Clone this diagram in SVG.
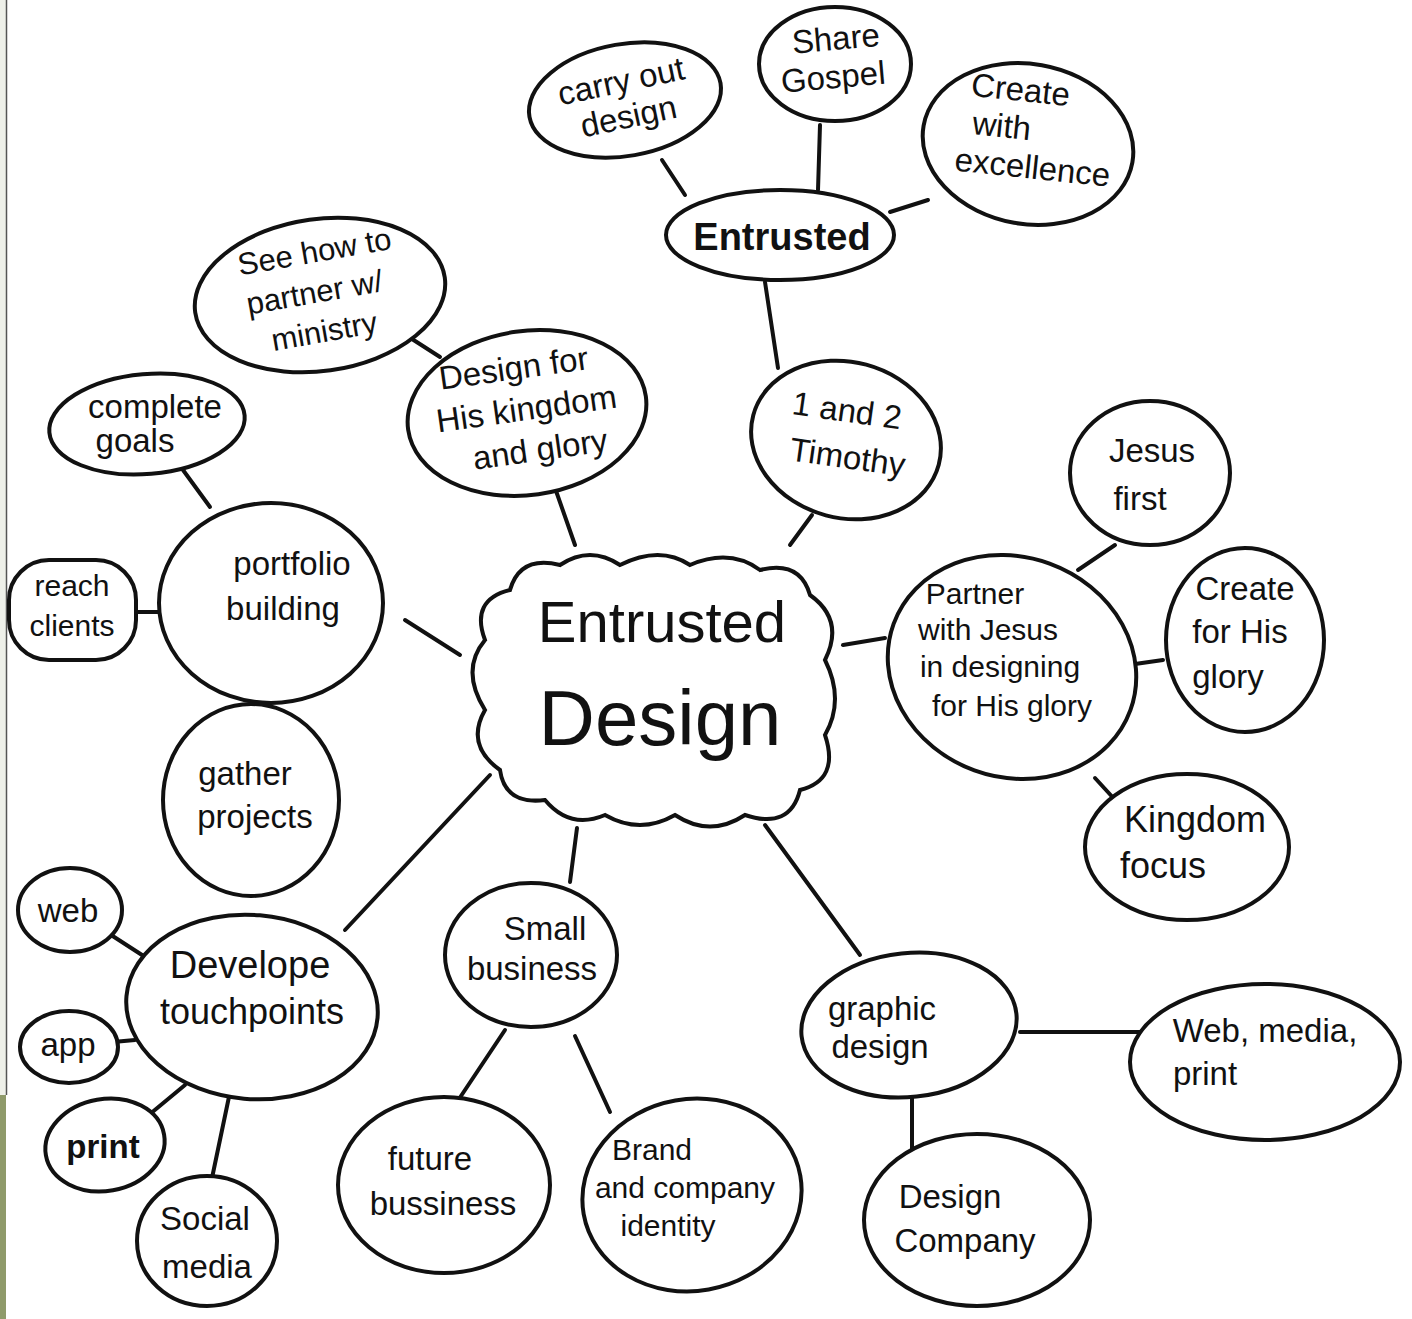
<svg xmlns="http://www.w3.org/2000/svg" width="1412" height="1319" viewBox="0 0 1412 1319">
<style>
.n{fill:#fff;stroke:#111;stroke-width:4}
.c line{stroke:#111;stroke-width:4;stroke-linecap:round}
text{font-family:"Liberation Sans","DejaVu Sans",sans-serif;fill:#111;text-anchor:middle}
.t{font-size:33px}
.s{font-size:30px}
</style>
<rect x="0" y="0" width="1412" height="1319" fill="#fff"/>
<rect x="0" y="0" width="6" height="1095" fill="#eef0e9"/>
<line x1="6.5" y1="0" x2="6.5" y2="1095" stroke="#555" stroke-width="1.5"/>
<rect x="0" y="1095" width="6" height="224" fill="#8f9a6a"/>

<g id="connectors" class="c">
<line x1="685" y1="195" x2="662" y2="160"/>
<line x1="818" y1="190" x2="820" y2="125"/>
<line x1="890" y1="212" x2="928" y2="200"/>
<line x1="765" y1="282" x2="778" y2="368"/>
<line x1="812" y1="515" x2="790" y2="545"/>
<line x1="398" y1="330" x2="440" y2="357"/>
<line x1="555" y1="488" x2="575" y2="545"/>
<line x1="183" y1="470" x2="210" y2="507"/>
<line x1="135" y1="612" x2="160" y2="612"/>
<line x1="242" y1="705" x2="234" y2="726"/>
<line x1="405" y1="620" x2="460" y2="655"/>
<line x1="108" y1="933" x2="142" y2="955"/>
<line x1="113" y1="1042" x2="135" y2="1040"/>
<line x1="150" y1="1114" x2="185" y2="1085"/>
<line x1="230" y1="1092" x2="212" y2="1178"/>
<line x1="490" y1="775" x2="345" y2="930"/>
<line x1="577" y1="828" x2="570" y2="882"/>
<line x1="505" y1="1030" x2="455" y2="1105"/>
<line x1="575" y1="1036" x2="610" y2="1112"/>
<line x1="765" y1="825" x2="860" y2="955"/>
<line x1="1020" y1="1032" x2="1145" y2="1032"/>
<line x1="912" y1="1092" x2="912" y2="1160"/>
<line x1="843" y1="645" x2="885" y2="638"/>
<line x1="1078" y1="570" x2="1115" y2="545"/>
<line x1="1128" y1="665" x2="1163" y2="660"/>
<line x1="1095" y1="778" x2="1117" y2="802"/>
</g>

<g id="center">
<path class="n" d="M 510,590 Q 520,555 560,565 Q 590,545 620,565 Q 660,545 690,565 Q 730,548 760,570 Q 800,560 810,595 Q 845,620 825,660 Q 845,700 825,735 Q 840,780 800,790 Q 790,830 745,815 Q 710,838 675,815 Q 640,835 605,815 Q 570,830 545,800 Q 505,805 500,770 Q 465,745 485,710 Q 460,670 485,640 Q 470,600 510,590 Z"/>
<text x="662" y="642" font-size="58">Entrusted</text>
<text x="660" y="745" font-size="78">Design</text>
</g>

<g id="entrusted">
<ellipse class="n" cx="780" cy="235" rx="114" ry="45"/>
<text x="782" y="250" font-size="38" font-weight="bold">Entrusted</text>
</g>
<g id="carry-out">
<ellipse class="n" cx="625" cy="100" rx="97" ry="56" transform="rotate(-10 625 100)"/>
<text class="t" transform="rotate(-12 625 100)"><tspan x="625" y="92">carry out</tspan><tspan x="625" y="128">design</tspan></text>
</g>
<g id="share-gospel">
<ellipse class="n" cx="835" cy="64" rx="76" ry="57"/>
<text class="t" transform="rotate(-5 835 64)"><tspan x="838" y="50">Share</tspan><tspan x="832" y="88">Gospel</tspan></text>
</g>
<g id="create-excellence">
<ellipse class="n" cx="1028" cy="144" rx="106" ry="80" transform="rotate(10 1028 144)"/>
<text class="t" transform="rotate(6 1028 144)"><tspan x="1015" y="102">Create</tspan><tspan x="1000" y="140">with</tspan><tspan x="1035" y="178">excellence</tspan></text>
</g>
<g id="timothy">
<ellipse class="n" cx="846" cy="440" rx="96" ry="78" transform="rotate(15 846 440)"/>
<text class="t" transform="rotate(8 846 440)"><tspan x="843" y="422">1 and 2</tspan><tspan x="850" y="468">Timothy</tspan></text>
</g>
<g id="see-how">
<ellipse class="n" cx="320" cy="295" rx="126" ry="76" transform="rotate(-8 320 295)"/>
<text font-size="31" transform="rotate(-10 320 295)"><tspan x="322" y="262">See how to</tspan><tspan x="315" y="302">partner w/</tspan><tspan x="318" y="342">ministry</tspan></text>
</g>
<g id="design-kingdom">
<ellipse class="n" cx="527" cy="413" rx="120" ry="82" transform="rotate(-8 527 413)"/>
<text class="t" transform="rotate(-8 527 413)"><tspan x="520" y="378">Design for</tspan><tspan x="527" y="420">His kingdom</tspan><tspan x="535" y="462">and glory</tspan></text>
</g>
<g id="complete-goals">
<ellipse class="n" cx="147" cy="424" rx="98" ry="50" transform="rotate(-5 147 424)"/>
<text class="t"><tspan x="155" y="418">complete</tspan><tspan x="135" y="452">goals</tspan></text>
</g>
<g id="portfolio">
<ellipse class="n" cx="271" cy="603" rx="112" ry="100"/>
<text class="t"><tspan x="292" y="575">portfolio</tspan><tspan x="283" y="620">building</tspan></text>
</g>
<g id="reach-clients">
<rect class="n" x="9" y="560" width="127" height="100" rx="40" ry="40"/>
<text class="s"><tspan x="72" y="596">reach</tspan><tspan x="72" y="636">clients</tspan></text>
</g>
<g id="gather-projects">
<ellipse class="n" cx="251" cy="800" rx="88" ry="96"/>
<text class="t"><tspan x="245" y="785">gather</tspan><tspan x="255" y="828">projects</tspan></text>
</g>
<g id="develope">
<ellipse class="n" cx="252" cy="1007" rx="126" ry="92" transform="rotate(5 252 1007)"/>
<text x="250" y="978" font-size="38">Develope</text>
<text x="252" y="1024" font-size="36">touchpoints</text>
</g>
<g id="web">
<ellipse class="n" cx="70" cy="910" rx="52" ry="42"/>
<text class="t" x="68" y="922">web</text>
</g>
<g id="app">
<ellipse class="n" cx="69" cy="1047" rx="49" ry="36"/>
<text class="t" x="68" y="1056">app</text>
</g>
<g id="print">
<ellipse class="n" cx="105" cy="1145" rx="60" ry="46" transform="rotate(-10 105 1145)"/>
<text class="t" x="103" y="1158" font-weight="bold">print</text>
</g>
<g id="social-media">
<ellipse class="n" cx="207" cy="1241" rx="70" ry="65"/>
<text class="t"><tspan x="205" y="1230">Social</tspan><tspan x="207" y="1278">media</tspan></text>
</g>
<g id="small-business">
<ellipse class="n" cx="531" cy="955" rx="86" ry="72"/>
<text class="t"><tspan x="545" y="940">Small</tspan><tspan x="532" y="980">business</tspan></text>
</g>
<g id="future-business">
<ellipse class="n" cx="444" cy="1185" rx="106" ry="88"/>
<text class="t"><tspan x="430" y="1170">future</tspan><tspan x="443" y="1215">bussiness</tspan></text>
</g>
<g id="brand">
<ellipse class="n" cx="692" cy="1195" rx="110" ry="96" transform="rotate(-10 692 1195)"/>
<text class="s"><tspan x="652" y="1160">Brand</tspan><tspan x="685" y="1198">and company</tspan><tspan x="668" y="1236">identity</tspan></text>
</g>
<g id="graphic-design">
<ellipse class="n" cx="909" cy="1025" rx="108" ry="72" transform="rotate(-6 909 1025)"/>
<text class="t"><tspan x="882" y="1020">graphic</tspan><tspan x="880" y="1058">design</tspan></text>
</g>
<g id="web-media-print">
<ellipse class="n" cx="1265" cy="1062" rx="135" ry="78"/>
<text class="t"><tspan x="1265" y="1042">Web, media,</tspan><tspan x="1205" y="1085">print</tspan></text>
</g>
<g id="design-company">
<ellipse class="n" cx="977" cy="1220" rx="113" ry="86"/>
<text class="t"><tspan x="950" y="1208">Design</tspan><tspan x="965" y="1252">Company</tspan></text>
</g>
<g id="partner">
<ellipse class="n" cx="1012" cy="667" rx="126" ry="110" transform="rotate(20 1012 667)"/>
<text class="s"><tspan x="975" y="604">Partner</tspan><tspan x="988" y="640">with Jesus</tspan><tspan x="1000" y="677">in designing</tspan><tspan x="1012" y="716">for His glory</tspan></text>
</g>
<g id="jesus-first">
<ellipse class="n" cx="1150" cy="473" rx="80" ry="72"/>
<text class="t"><tspan x="1152" y="462">Jesus</tspan><tspan x="1140" y="510">first</tspan></text>
</g>
<g id="create-glory">
<ellipse class="n" cx="1245" cy="640" rx="79" ry="92"/>
<text class="t"><tspan x="1245" y="600">Create</tspan><tspan x="1240" y="643">for His</tspan><tspan x="1228" y="688">glory</tspan></text>
</g>
<g id="kingdom-focus">
<ellipse class="n" cx="1187" cy="847" rx="102" ry="73"/>
<text x="1195" y="832" font-size="36">Kingdom</text>
<text x="1163" y="878" font-size="36">focus</text>
</g>
</svg>
